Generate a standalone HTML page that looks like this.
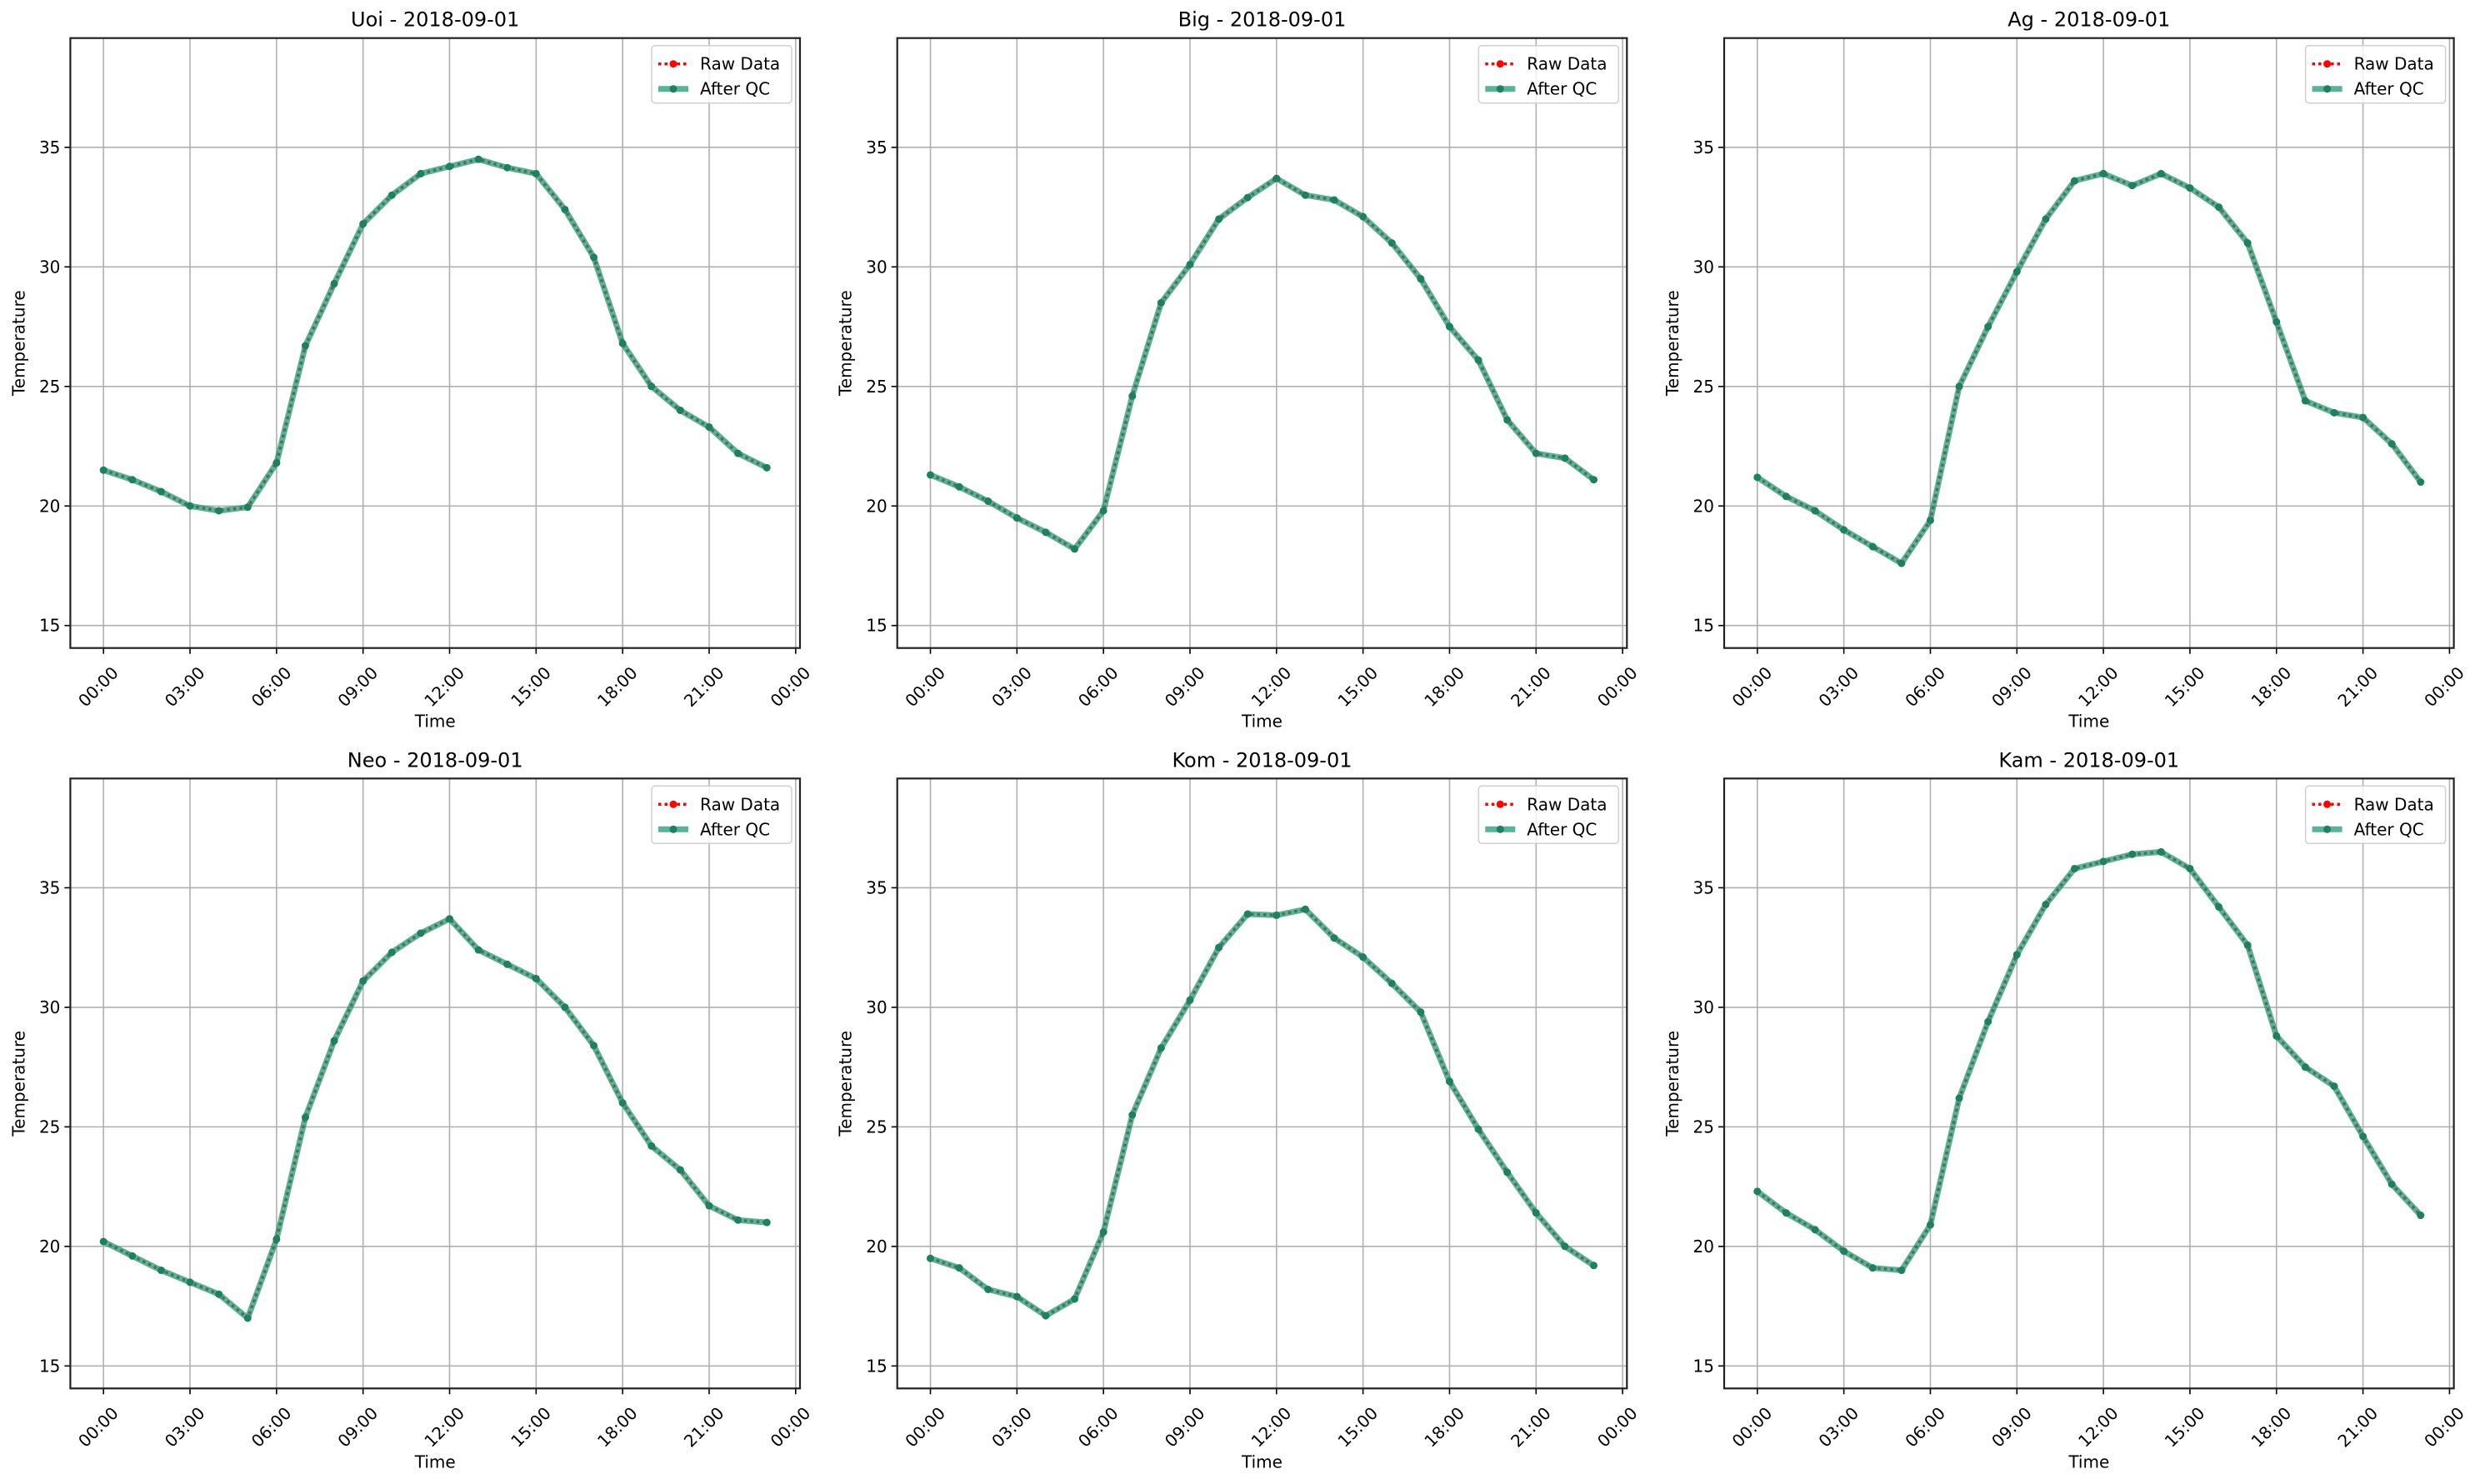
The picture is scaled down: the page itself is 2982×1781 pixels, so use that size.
<!DOCTYPE html>
<html><head><meta charset="utf-8">
<style>
html,body{margin:0;padding:0;background:#fff;}
svg{display:block;font-family:"DejaVu Sans","Liberation Sans",sans-serif;}
</style></head>
<body>
<svg id="fig" width="2982" height="1781" viewBox="0 0 2982 1781" xmlns="http://www.w3.org/2000/svg">
<rect width="2982" height="1781" fill="#fff"/>
</svg>
<script>
const stations = ["Uoi","Big","Ag","Neo","Kom","Kam"];
const hours = [0,1,2,3,4,5,6,7,8,9,10,11,12,13,14,15,16,17,18,19,20,21,22,23];
const uoi = [21.5,21.1,20.6,20.0,19.8,19.95,21.8,26.7,29.3,31.8,33.0,33.9,34.2,34.5,34.15,33.9,32.4,30.4,26.8,25.0,24.0,23.3,22.2,21.6];
const big = [21.3,20.8,20.2,19.5,18.9,18.2,19.8,24.6,28.5,30.1,32.0,32.9,33.7,33.0,32.8,32.1,31.0,29.5,27.5,26.1,23.6,22.2,22.0,21.1];
const ag  = [21.2,20.4,19.8,19.0,18.3,17.6,19.4,25.0,27.5,29.8,32.0,33.6,33.9,33.4,33.9,33.3,32.5,31.0,27.7,24.4,23.9,23.7,22.6,21.0];
const neo = [20.2,19.6,19.0,18.5,18.0,17.0,20.3,25.4,28.6,31.1,32.3,33.1,33.7,32.4,31.8,31.2,30.0,28.4,26.0,24.2,23.2,21.7,21.1,21.0];
const kom = [19.5,19.1,18.2,17.9,17.1,17.8,20.6,25.5,28.3,30.3,32.5,33.9,33.85,34.1,32.9,32.1,31.0,29.8,26.9,24.9,23.1,21.4,20.0,19.2];
const kam = [22.3,21.4,20.7,19.8,19.1,19.0,20.9,26.2,29.4,32.2,34.3,35.8,36.1,36.4,36.5,35.8,34.2,32.6,28.8,27.5,26.7,24.6,22.6,21.3];
const series = [uoi,big,ag,neo,kom,kam];
const xTickHours = [0,3,6,9,12,15,18,21,24];
const xTickLabels = ["00:00","03:00","06:00","09:00","12:00","15:00","18:00","21:00","00:00"];
const yTicks = [15,20,25,30,35];
const dateLabel = "2018-09-01";

const NS="http://www.w3.org/2000/svg";
const svg=document.getElementById('fig');
function mk(tag,attrs,parent){const e=document.createElementNS(NS,tag);for(const k in attrs)e.setAttribute(k,attrs[k]);(parent||svg).appendChild(e);return e;}

const lefts=[84.4,1076.7,2069], tops=[45.7,934.3], W=875.6, H=732;
const xmin=-1.15, xmax=24.15, ymin=14.06, ymax=39.57;

stations.forEach((st,i)=>{
  const L=lefts[i%3], T=tops[Math.floor(i/3)];
  const sx=v=>L+(v-xmin)/(xmax-xmin)*W;
  const sy=v=>T+H-(v-ymin)/(ymax-ymin)*H;
  const g=mk('g',{});
  
  
  xTickHours.forEach((h,k)=>{
    const x=sx(h);
    const gl=mk('line',{x1:x,x2:x,y1:T,y2:T+H,stroke:'#b0b0b0','stroke-width':1.6},g);
    
    
    mk('line',{x1:x,x2:x,y1:T+H,y2:T+H+7,stroke:'#000','stroke-width':1.6},g);
    const t=mk('text',{x:0,y:0,'font-size':20,'text-anchor':'end',transform:`translate(${x+19},${T+H+31}) rotate(-45)`,fill:'#000'},g);
    t.textContent=xTickLabels[k];
    
    
  });
  yTicks.forEach(v=>{
    const y=sy(v);
    const gl=mk('line',{x1:L,x2:L+W,y1:y,y2:y,stroke:'#b0b0b0','stroke-width':1.6},g);
    
    
    mk('line',{x1:L-7,x2:L,y1:y,y2:y,stroke:'#000','stroke-width':1.6},g);
    const t=mk('text',{x:L-12,y:y+7,'font-size':20,'text-anchor':'end',fill:'#000'},g);
    t.textContent=v;
    
    
  });
  const vals=series[i];
  const pts=hours.map((h,k)=>sx(h)+','+sy(vals[k])).join(' ');
  const raw=mk('polyline',{points:pts,fill:'none',stroke:'#ff0000','stroke-width':3.5,'stroke-dasharray':'3.5 4'},g);
  
  
  const qc=mk('polyline',{points:pts,fill:'none',stroke:'rgba(24,150,112,0.72)','stroke-width':7,'stroke-linejoin':'round'},g);
  
  
  hours.forEach((h,k)=>{
    const c=mk('circle',{cx:sx(h),cy:sy(vals[k]),r:4.5,fill:'#1f7f60'},g);
    
    
  });
  const fr=mk('rect',{x:L,y:T,width:W,height:H,fill:'none',stroke:'#222','stroke-width':2.2},g);
  
  
  const ti=mk('text',{x:L+W/2,y:T-14,'font-size':24,'text-anchor':'middle',fill:'#000'},g);
  ti.textContent=st+' - '+dateLabel;
  
  
  const xl=mk('text',{x:L+W/2,y:T+H+95,'font-size':20,'text-anchor':'middle',fill:'#000'},g);
  xl.textContent='Time';
  
  
  const yl=mk('text',{x:0,y:0,'font-size':20,'text-anchor':'middle',fill:'#000',transform:`translate(${L-55},${T+H/2}) rotate(-90)`},g);
  yl.textContent='Temperature';
  
  
  const lx=L+W-178, ly=T+9;
  const lg=mk('g',{},g);
  
  
  mk('rect',{x:lx,y:ly,width:168,height:69,rx:4,fill:'rgba(255,255,255,0.8)',stroke:'#d0d0d0','stroke-width':1.5},lg);
  mk('line',{x1:lx+8,x2:lx+44,y1:ly+22,y2:ly+22,stroke:'#ff0000','stroke-width':3.5,'stroke-dasharray':'3.5 4'},lg);
  mk('circle',{cx:lx+26,cy:ly+22,r:4.5,fill:'#ff0000'},lg);
  const t1=mk('text',{x:lx+58,y:ly+29,'font-size':20,fill:'#000'},lg);
  t1.textContent='Raw Data';
  
  
  mk('line',{x1:lx+8,x2:lx+44,y1:ly+52,y2:ly+52,stroke:'rgba(24,150,112,0.72)','stroke-width':7},lg);
  mk('circle',{cx:lx+26,cy:ly+52,r:4.5,fill:'#1f7f60'},lg);
  const t2=mk('text',{x:lx+58,y:ly+59,'font-size':20,fill:'#000'},lg);
  t2.textContent='After QC';
  
  
});
</script>
</body></html>
